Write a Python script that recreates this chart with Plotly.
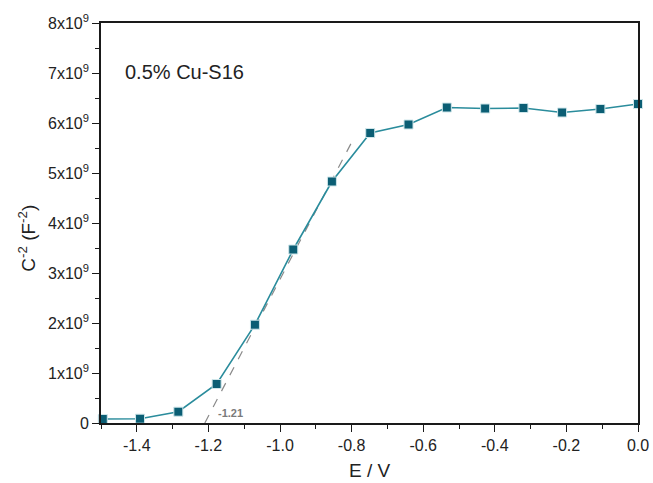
import plotly.graph_objects as go

# Data
E_V = [-1.495, -1.391, -1.284, -1.177, -1.070, -0.963, -0.855, -0.748,
       -0.641, -0.534, -0.427, -0.320, -0.212, -0.105, 0.0]
C2 = [0.08e9, 0.086e9, 0.226e9, 0.78e9, 1.966e9, 3.47e9, 4.83e9, 5.80e9,
      5.97e9, 6.31e9, 6.29e9, 6.30e9, 6.21e9, 6.28e9, 6.38e9]

tangent_x = [-1.21, -0.795]
tangent_y = [0.0, 5.68e9]
intercept_label = "-1.21"
sample_label = "0.5% Cu-S16"
x_title = "E / V"
y_title = "C<sup>-2</sup> (F<sup>-2</sup>)"

ytick_vals = [0, 1e9, 2e9, 3e9, 4e9, 5e9, 6e9, 7e9, 8e9]
ytick_text = ["0"] + [f"{i}x10<sup>9</sup>" for i in range(1, 9)]
xtick_vals = [-1.4, -1.2, -1.0, -0.8, -0.6, -0.4, -0.2, 0.0]
xtick_text = ["-1.4", "-1.2", "-1.0", "-0.8", "-0.6", "-0.4", "-0.2", "0.0"]

FONT = "Arial, 'Liberation Sans', sans-serif"

fig = go.Figure()
fig.add_trace(go.Scatter(
    x=tangent_x, y=tangent_y, mode="lines",
    line=dict(color="#8a8a8a", width=1.2, dash="dash"),
    showlegend=False, hoverinfo="skip"))
fig.add_trace(go.Scatter(
    x=E_V, y=C2, mode="lines+markers",
    line=dict(color="#2a8c9c", width=1.6),
    marker=dict(symbol="square", size=9, color="#0b5e74",
                line=dict(color="#cfe6ea", width=1)),
    showlegend=False, cliponaxis=False))

fig.add_annotation(x=-1.18, y=0.2e9, xref="x", yref="y", text="<b>" + intercept_label + "</b>",
                   showarrow=False, xanchor="left", yanchor="middle",
                   font=dict(family=FONT, size=11, color="#7a7a7a"))
fig.add_annotation(x=0.0404, y=0.877, xref="paper", yref="paper", text=sample_label,
                   showarrow=False, xanchor="left", yanchor="middle",
                   font=dict(family=FONT, size=20, color="#222222"))
# axis titles placed as in the reference
fig.add_annotation(x=0.5, y=-0.119, xref="paper", yref="paper", text=x_title,
                   showarrow=False, xanchor="center", yanchor="middle",
                   font=dict(family=FONT, size=19, color="#222222"))
fig.add_annotation(x=-0.138, y=0.463, xref="paper", yref="paper", text=y_title,
                   showarrow=False, xanchor="center", yanchor="middle", textangle=-90,
                   font=dict(family=FONT, size=19, color="#222222"))

axis_common = dict(
    showline=True, linecolor="#1a1a1a", linewidth=1.6, mirror=True,
    ticks="outside", ticklen=7, tickwidth=1.4, tickcolor="#1a1a1a",
    showgrid=False, zeroline=False,
    tickfont=dict(family=FONT, size=16, color="#222222"),
)

fig.update_xaxes(
    range=[-1.5, 0.0], tickmode="array", tickvals=xtick_vals, ticktext=xtick_text,
    minor=dict(ticks="outside", dtick=0.1, tick0=0, ticklen=4.5, tickwidth=1.4, tickcolor="#1a1a1a"),
    **axis_common)
fig.update_yaxes(
    range=[0, 8e9], tickmode="array", tickvals=ytick_vals, ticktext=ytick_text,
    minor=dict(ticks="outside", dtick=0.5e9, tick0=0, ticklen=4.5, tickwidth=1.4, tickcolor="#1a1a1a"),
    **axis_common)

fig.update_layout(
    width=653, height=483,
    margin=dict(l=101, r=15, t=23, b=60, autoexpand=False),
    paper_bgcolor="white", plot_bgcolor="white",
    font=dict(family=FONT),
)

# remove the browser's default 8px body margin so the figure fills the window
fig.write_html("out.html", config={"displayModeBar": False},
               post_script="document.body.style.margin='0';document.body.style.overflow='hidden';")
